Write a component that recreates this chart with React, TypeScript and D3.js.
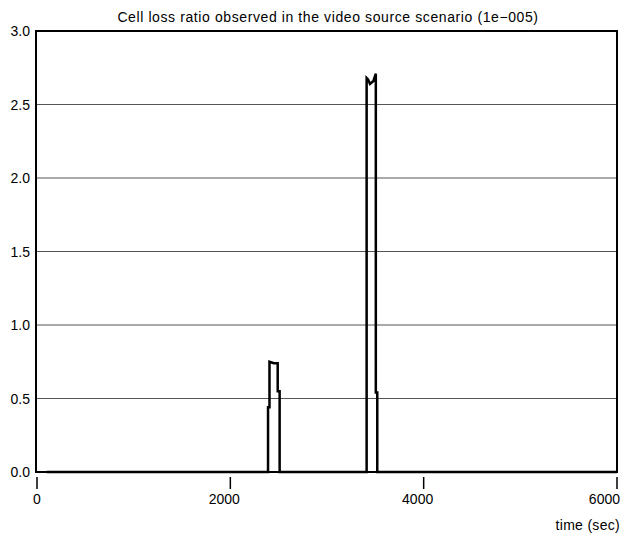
import React from "react";
import * as d3 from "d3";

// Cell loss ratio (x 1e-5) over simulated time
const timeSec = [100, 2390, 2390, 2405, 2405, 2450, 2490, 2490, 2510, 2510, 3410, 3410, 3425, 3445, 3480, 3505, 3505, 3520, 3520, 6000];
const lossRatio = [0, 0, 0.44, 0.44, 0.75, 0.74, 0.74, 0.55, 0.55, 0, 0, 2.68, 2.67, 2.64, 2.66, 2.71, 0.54, 0.54, 0, 0];

const xTicks = [0, 2000, 4000, 6000];
const yTicks = [0, 0.5, 1.0, 1.5, 2.0, 2.5, 3.0];

const W = 633;
const H = 536;
const left = 36;
const right = 617;
const top = 31;
const bottom = 472;

export default function App() {
  const x = d3.scaleLinear().domain([0, 6000]).range([37, 617]);
  const y = d3.scaleLinear().domain([0, 3]).range([bottom, top]);
  const line = d3
    .line<number>()
    .x((_, i) => x(timeSec[i]))
    .y((d) => y(d));
  const font = "'Liberation Sans', Arial, sans-serif";

  return (
    <svg
      width={W}
      height={H}
      style={{ position: "absolute", left: 0, top: 0, background: "#fff" }}
      fontFamily={font}
    >
      <rect x={0} y={0} width={W} height={H} fill="#fff" />
      <text x={328} y={22} textAnchor="middle" fontSize={14} letterSpacing={0.6} fill="#000">
        Cell loss ratio observed in the video source scenario (1e−005)
      </text>

      {yTicks.slice(1, -1).map((t) => (
        <line key={t} x1={left} x2={right} y1={y(t)} y2={y(t)} stroke="#555" strokeWidth={1} />
      ))}
      {yTicks.map((t) => (
        <text key={t} x={30} y={y(t) + 5} textAnchor="end" fontSize={14} fill="#000">
          {t.toFixed(1)}
        </text>
      ))}

      <rect x={left} y={top} width={right - left} height={bottom - top} fill="none" stroke="#000" strokeWidth={2} />

      {xTicks.map((t, i) => {
        const last = i === xTicks.length - 1;
        const anchor = last ? "end" : "middle";
        const dx = i === 0 ? 0 : last ? 3 : -6;
        return (
          <g key={t}>
            <line x1={x(t)} x2={x(t)} y1={bottom + 5} y2={bottom + 17} stroke="#000" strokeWidth={1.5} />
            <text x={x(t) + dx} y={bottom + 32} textAnchor={anchor} fontSize={14} fill="#000">
              {t}
            </text>
          </g>
        );
      })}
      <text x={620} y={530} textAnchor="end" fontSize={14} letterSpacing={0.3} fill="#000">
        time (sec)
      </text>

      <path d={line(lossRatio) ?? ""} fill="none" stroke="#000" strokeWidth={2.5} strokeLinejoin="miter" />
    </svg>
  );
}
